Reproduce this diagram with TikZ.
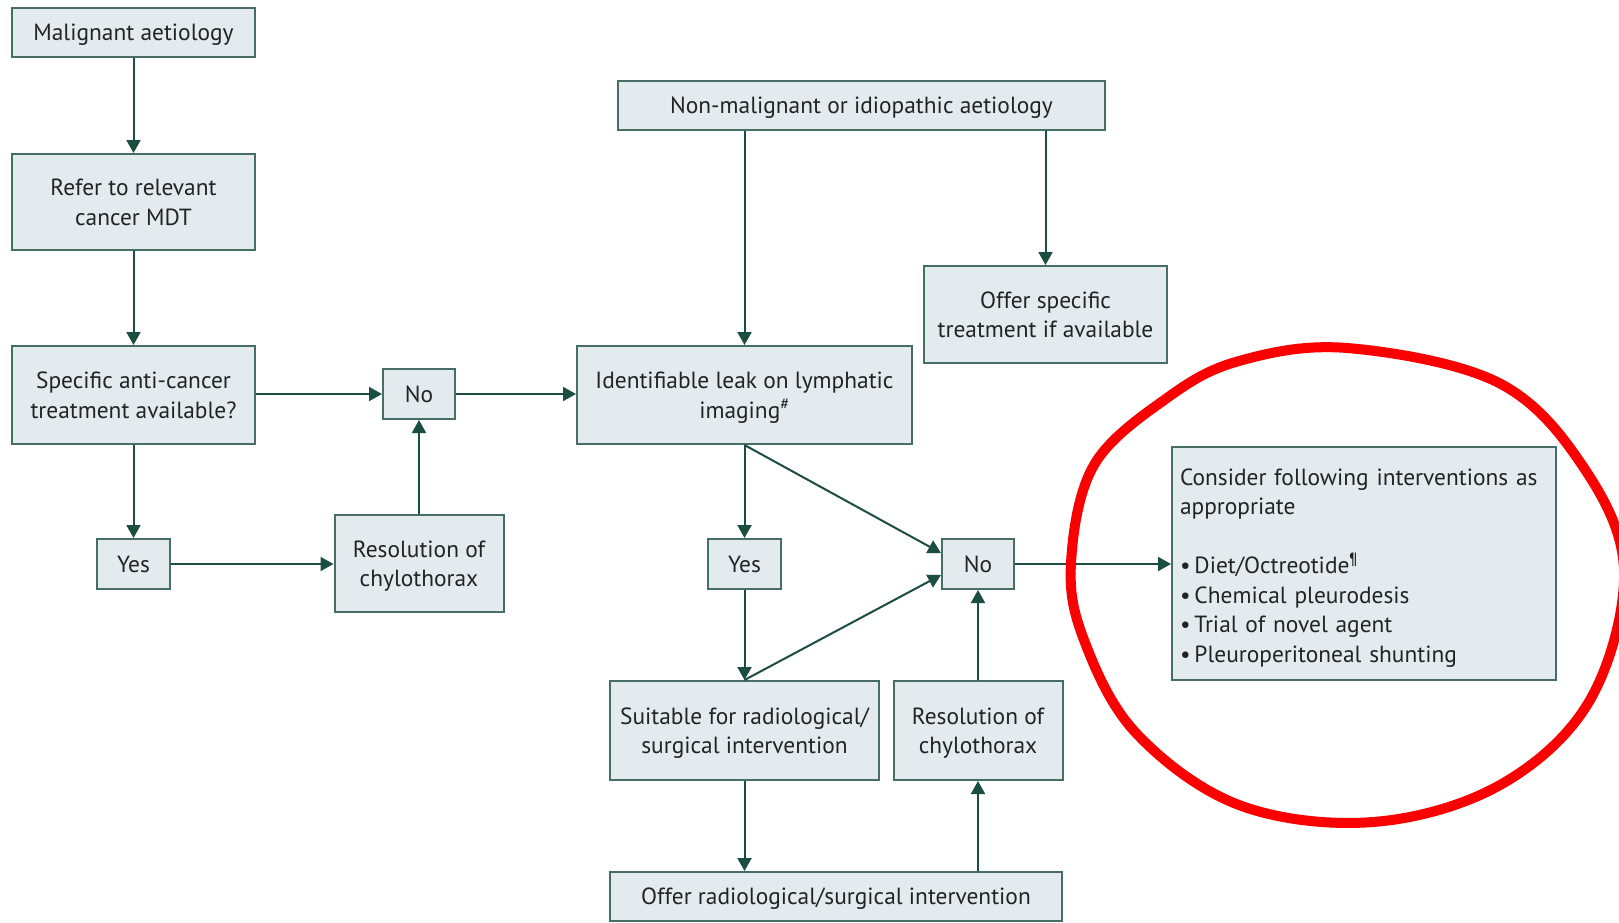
\documentclass[tikz,border=0pt]{standalone}
\usepackage{fontspec}
\setmainfont{PT Sans}
\usetikzlibrary{arrows.meta}
\definecolor{boxfill}{RGB}{227,235,239}
\definecolor{boxline}{RGB}{70,110,100}
\definecolor{arr}{RGB}{25,78,64}
\definecolor{txt}{RGB}{35,35,35}
\definecolor{ring}{RGB}{250,0,0}
\begin{document}
\begin{tikzpicture}[x=1pt,y=-1pt,
  box/.style={draw=boxline, line width=2pt, fill=boxfill, inner sep=0pt, align=center, text=txt, text depth=0pt, font=\fontsize{23.4}{29.5}\selectfont},
  conn/.style={draw=arr, line width=2pt, -{Triangle[width=14pt,length=13pt]}}]
\useasboundingbox[fill=white] (0,0) rectangle (1619,922);

\node[box, minimum width=243, minimum height=49] (mal) at (133.5,32.5) {Malignant aetiology};
\node[box, minimum width=243, minimum height=96] (refer) at (133.5,202) {Refer to relevant\\cancer MDT};
\node[box, minimum width=243, minimum height=98] (spec) at (133.5,395) {Specific anti-cancer\\treatment available?};
\node[box, minimum width=72, minimum height=50] (no1) at (419,394) {No};
\node[box, minimum width=73, minimum height=50] (yes1) at (133.5,564) {Yes};
\node[box, minimum width=169, minimum height=97] (res1) at (419,563.5) {Resolution of\\chylothorax};
\node[box, minimum width=487, minimum height=49] (nonmal) at (861.5,105) {Non-malignant or idiopathic aetiology};
\node[box, minimum width=243, minimum height=97] (offspec) at (1045.5,314.5) {Offer specific\\treatment if available};
\node[box, minimum width=335, minimum height=98] (ident) at (744.5,395) {Identifiable leak on lymphatic\\imaging\textsuperscript{\#}};
\node[box, minimum width=73, minimum height=50] (yes2) at (744.5,564) {Yes};
\node[box, minimum width=72, minimum height=50] (no2) at (978,564) {No};
\node[box, minimum width=269, minimum height=99] (suit) at (744.5,730.5) {Suitable for radiological/\\surgical intervention};
\node[box, minimum width=169, minimum height=99] (res2) at (978,730.5) {Resolution of\\chylothorax};
\node[box, minimum width=452, minimum height=49] (offrad) at (836,896.5) {Offer radiological/surgical intervention};
\node[box, text depth={}, minimum width=384, minimum height=233, text width=368, inner xsep=8, align=left] (cons) at (1364,563.5)
  {\rule{0pt}{25pt}Consider following interventions as\\appropriate\\~\\
   \textbullet\,Diet/Octreotide\textsuperscript{¶}\\
   \textbullet\,Chemical pleurodesis\\
   \textbullet\,Trial of novel agent\\
   \textbullet\,Pleuroperitoneal shunting};

\coordinate (nmL) at (ident.north |- nonmal.south);
\coordinate (nmR) at (offspec.north |- nonmal.south);
\coordinate (no2a) at ([yshift=11]no2.west);
\coordinate (no2b) at ([yshift=-11]no2.west);
\coordinate (orR) at (res2.south |- offrad.north);

\draw[conn] (mal) -- (refer);
\draw[conn] (refer) -- (spec);
\draw[conn] (spec.east |- no1.west) -- (no1.west);
\draw[conn] (spec) -- (yes1);
\draw[conn] (yes1) -- (res1.west |- yes1.east);
\draw[conn] (res1.north -| no1.south) -- (no1.south);
\draw[conn] (no1) -- (ident.west |- no1.east);
\draw[conn] (nmL) -- (ident.north);
\draw[conn] (nmR) -- (offspec.north);
\draw[conn] (ident) -- (yes2);
\draw[conn] (ident.south) -- (no2a);
\draw[conn] (yes2) -- (suit);
\draw[conn] (suit.north) -- (no2b);
\draw[conn] (suit.south) -- (suit.south |- offrad.north);
\draw[conn] (orR) -- (res2.south);
\draw[conn] (res2) -- (no2);
\draw[conn] (no2) -- (cons.west |- no2.east);

\draw[ring, line width=10pt] plot[smooth cycle, tension=0.6] coordinates {
  (1347,348) (1497,382) (1582,465) (1624,570) (1590,700) (1500,785) (1373,822) (1239,805)
  (1136,733) (1084,640) (1071,563) (1094,465) (1167,398) (1239,361)};
\end{tikzpicture}
\end{document}
